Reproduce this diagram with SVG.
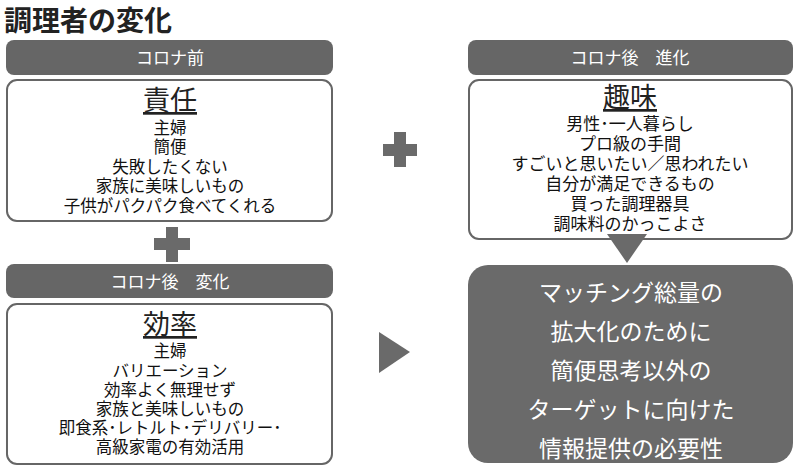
<svg xmlns="http://www.w3.org/2000/svg" width="800" height="470" viewBox="0 0 800 470">
<style>
text{font-family:"Noto Sans CJK JP","Noto Sans",sans-serif;text-anchor:middle;}
.title{font-size:28px;font-weight:bold;text-anchor:start;fill:#222;}
.hdr{fill:#666;}
.hdrt{fill:#fff;font-size:17px;}
.box{fill:#fff;stroke:#666;stroke-width:2;}
.head{font-size:27px;fill:#222;text-decoration:underline;}
.item{font-size:16.5px;fill:#111;}
.item2{font-size:17px;fill:#111;}
.sym{fill:#6a6a6a;}
.dark{fill:#6a6a6a;}
.dt{fill:#fff;font-size:23px;}
</style>
<text class="title" x="4" y="31">調理者の変化</text>

<g id="hdr-before">
<rect class="hdr" x="6" y="40" width="327" height="35" rx="8"/>
<text class="hdrt" x="170" y="64">コロナ前</text>
</g>
<g id="box-before">
<rect class="box" x="7" y="80" width="325" height="141" rx="10"/>
<text class="head" x="170" y="110">責任</text>
<text class="item" x="170" y="134">主婦</text>
<text class="item" x="170" y="153">簡便</text>
<text class="item" x="170" y="172.5">失敗したくない</text>
<text class="item" x="170" y="192">家族に美味しいもの</text>
<text class="item" x="170" y="211.5">子供がパクパク食べてくれる</text>
</g>

<g id="hdr-change">
<rect class="hdr" x="6" y="264" width="327" height="34" rx="8"/>
<text class="hdrt" x="170" y="288">コロナ後　変化</text>
</g>
<g id="box-change">
<rect class="box" x="7" y="304" width="325" height="160" rx="10"/>
<text class="head" x="170" y="334">効率</text>
<text class="item" x="170" y="357">主婦</text>
<text class="item" x="170" y="376.5">バリエーション</text>
<text class="item" x="170" y="395.5">効率よく無理せず</text>
<text class="item" x="170" y="414.5">家族と美味しいもの</text>
<text class="item" x="170" y="433.5">即食系･レトルト･デリバリー･</text>
<text class="item" x="170" y="453">高級家電の有効活用</text>
</g>

<g id="hdr-evolve">
<rect class="hdr" x="468" y="40" width="325" height="35" rx="8"/>
<text class="hdrt" x="630" y="64">コロナ後　進化</text>
</g>
<g id="box-evolve">
<rect class="box" x="469" y="80" width="323" height="159" rx="10"/>
<text class="head" x="630" y="107">趣味</text>
<text class="item2" x="630" y="130">男性･一人暮らし</text>
<text class="item2" x="630" y="150">プロ級の手間</text>
<text class="item2" x="630" y="170">すごいと思いたい／思われたい</text>
<text class="item2" x="630" y="190">自分が満足できるもの</text>
<text class="item2" x="630" y="210">買った調理器具</text>
<text class="item2" x="630" y="230">調味料のかっこよさ</text>
</g>

<g id="box-result">
<rect class="dark" x="468" y="265" width="325" height="198" rx="20"/>
<text class="dt" x="631" y="301">マッチング総量の</text>
<text class="dt" x="631" y="340">拡大化のために</text>
<text class="dt" x="631" y="379">簡便思考以外の</text>
<text class="dt" x="631" y="418">ターゲットに向けた</text>
<text class="dt" x="631" y="457">情報提供の必要性</text>
</g>

<g id="connectors">
<path class="sym" d="M166,227h12v11h12v12h-12v12h-12v-12h-12v-12h12z"/>
<path class="sym" d="M394,132h12v12h11v12h-11v11h-12v-11h-11v-12h11z"/>
<polygon class="sym" points="607,234 647,234 627,263"/>
<polygon class="sym" points="379,332 379,373 410,352"/>
</g>
</svg>
